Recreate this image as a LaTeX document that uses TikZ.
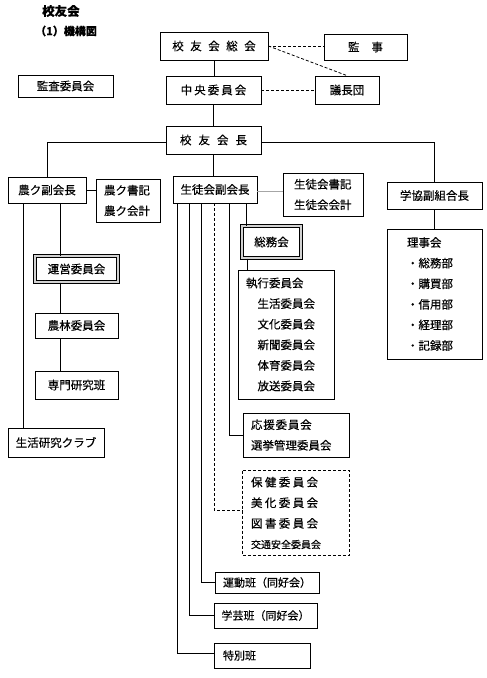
\documentclass[tikz,border=0pt]{standalone}
\usepackage{fontspec}
\newfontfamily\jp[FakeBold=0.3]{Noto Sans CJK JP}
\usetikzlibrary{calc}
\begin{document}
\begin{tikzpicture}[x=1pt,y=-1pt,
  box/.style={draw, line width=0.8pt, inner sep=0pt, font=\jp\fontsize{11.5}{14}\selectfont},
  dbox/.style={box, double=gray!35, double distance=1.1pt, line width=1pt},
  lst/.style={box, align=left, font=\jp\fontsize{11.5}{20.6}\selectfont},
  ln/.style={line width=0.8pt},
  dsh/.style={line width=0.8pt, dash pattern=on 3pt off 2pt},
  gln/.style={line width=1.6pt, draw=gray!70},
  lbl/.style={anchor=west, inner sep=0pt},
]
\useasboundingbox (0,0) rectangle (487,678);

% titles
\node[lbl, font=\jp\bfseries\fontsize{12.5}{14}\selectfont] (title) at (42,11) {校友会};
\node[lbl, font=\jp\bfseries\fontsize{11}{13}\selectfont] (sub) at (35,31) {（1）機構図};

% top
\node[box, minimum width=108pt, minimum height=28pt] (soukai) at (214,46) {校\hspace{6.5pt}友\hspace{6.5pt}会\hspace{6.5pt}総\hspace{6.5pt}会};
\node[box, minimum width=83pt, minimum height=26pt] (kanji) at (365.5,47) {監\hspace{12pt}事};
\node[box, minimum width=64pt, minimum height=28pt] (gichou) at (347,90) {議長団};
\node[box, minimum width=95pt, minimum height=28pt] (chuo) at (213.5,90) {中\hspace{2pt}央\hspace{2pt}委\hspace{2pt}員\hspace{2pt}会};
\node[box, minimum width=95pt, minimum height=22pt] (kansa) at (65.5,86) {監査委員会};
\node[box, minimum width=95pt, minimum height=28pt] (kaichou) at (213.5,140) {校\hspace{7pt}友\hspace{7pt}会\hspace{7pt}長};

% left branch
\node[box, minimum width=78pt, minimum height=26pt] (noufuku) at (47,190) {農ク副会長};
\node[lst, inner xsep=8pt, text width=48pt, minimum height=43pt] (nousho) at (128,200.5) {農ク書記\\農ク会計};
\node[dbox, minimum width=83pt, minimum height=26pt] (unei) at (76.5,269) {運営委員会};
\node[box, minimum width=83pt, minimum height=25pt] (nourin) at (76.5,325.5) {農林委員会};
\node[box, minimum width=83pt, minimum height=28pt] (senmon) at (76.5,385) {専門研究班};
\node[box, minimum width=96pt, minimum height=29pt] (seikatsu) at (56,442.5) {生活研究クラブ};

% middle branch
\node[box, minimum width=84pt, minimum height=27pt] (seifuku) at (215,189.5) {生徒会副会長};
\node[lst, inner xsep=11pt, text width=58pt, minimum height=43pt] (seisho) at (323,194.5) {生徒会書記\\生徒会会計};
\node[dbox, minimum width=59pt, minimum height=32pt] (soumu) at (271.5,242) {総務会};
\node[lst, inner xsep=8pt, text width=80pt, minimum height=129pt] (shikkou) at (286,334.5)
  {執行委員会\\\hspace*{1em}生活委員会\\\hspace*{1em}文化委員会\\\hspace*{1em}新聞委員会\\\hspace*{1em}体育委員会\\\hspace*{1em}放送委員会};
\node[lst, inner xsep=8pt, text width=90pt, minimum height=44pt] (ouen) at (296,435)
  {応\hspace{0.8pt}援\hspace{0.8pt}委\hspace{0.8pt}員\hspace{0.8pt}会\\選挙管理委員会};
\node[lst, draw=none, inner xsep=8pt, text width=90pt, minimum height=84pt] (hoken) at (296,513)
  {保\hspace{2.4pt}健\hspace{2.4pt}委\hspace{2.4pt}員\hspace{2.4pt}会\\美\hspace{2.4pt}化\hspace{2.4pt}委\hspace{2.4pt}員\hspace{2.4pt}会\\図\hspace{2.4pt}書\hspace{2.4pt}委\hspace{2.4pt}員\hspace{2.4pt}会\\{\fontsize{10}{20.6}\selectfont 交通安全委員会}};
\draw[dsh] (hoken.north west) rectangle (hoken.south east);
\node[box, minimum width=104pt, minimum height=21pt, font=\jp\fontsize{11}{13}\selectfont] (undou) at (267,582.5) {運動班（同好会）};
\node[box, minimum width=103pt, minimum height=25pt, font=\jp\fontsize{11}{13}\selectfont] (gakugei) at (265.5,615.5) {学芸班（同好会）};
\node[lst, inner xsep=9pt, text width=78pt, minimum height=25pt, font=\jp\fontsize{11}{13}\selectfont] (tokubetsu) at (262,655.5) {特別班};

% right branch
\node[box, minimum width=95pt, minimum height=27pt] (gakkyo) at (434.5,195.5) {学協副組合長};
\node[lst, inner xsep=20pt, text width=55pt, minimum height=130pt] (riji) at (434.5,294)
  {理事会\\・総務部\\・購買部\\・信用部\\・経理部\\・記録部};

% connectors: top
\draw[ln] (soukai.south) -- (soukai.south |- chuo.north);
\draw[ln] (chuo.south) -- (chuo.south |- kaichou.north);
\draw[dsh] (soukai.east) -- (soukai.east -| kanji.west);
\draw[dsh] (soukai.east) -- (gichou.north);
\draw[dsh] (chuo.east) -- (gichou.west);
\draw[ln] ($(kaichou.west)+(0,2)$) -| (noufuku.north);
\draw[ln] ($(kaichou.east)+(0,2)$) -| (gakkyo.north);
\draw[ln] (kaichou.south) -- (kaichou.south |- seifuku.north);

% left
\draw[ln] (noufuku.east) -- (noufuku.east -| nousho.west);
\draw[ln] (noufuku.south -| 23,0) -- (seikatsu.north -| 23,0);
\draw[ln] (noufuku.south -| 60,0) -- (unei.north -| 60,0);
\draw[ln] (unei.south -| 60,0) -- (nourin.north -| 60,0);
\draw[ln] (nourin.south -| 60,0) -- (senmon.north -| 60,0);

% middle
\draw[gln] ($(seifuku.east)+(0,2)$) -- ($(seifuku.east -| seisho.west)+(0,2)$);
\draw[ln] (seifuku.south -| 246,0) -- (soumu.north -| 246,0);
\draw[ln] (soumu.south -| 247,0) -- (shikkou.north -| 247,0);
\draw[ln] (seifuku.south -| 229,0) |- (ouen.west);
\draw[dsh] (seifuku.south -| 214,0) |- ($(hoken.west)+(0,-3)$);
\draw[ln] (seifuku.south -| 201,0) |- (undou.west);
\draw[ln] (seifuku.south -| 189,0) |- (gakugei.west);
\draw[ln] (seifuku.south -| 177,0) |- ($(tokubetsu.west)+(0,-2.5)$);

% right
\draw[ln] (gakkyo.south) -- (riji.north);
\end{tikzpicture}
\end{document}
